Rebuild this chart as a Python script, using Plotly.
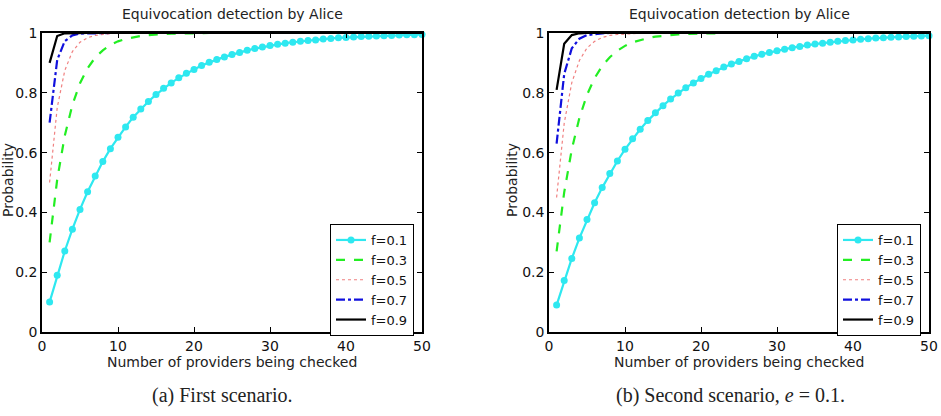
import plotly.graph_objects as go

W, H = 941, 416

n_providers = list(range(1, 51))
labels = ["f=0.1", "f=0.3", "f=0.5", "f=0.7", "f=0.9"]

# (a) First scenario
a_f01 = [0.100, 0.190, 0.271, 0.344, 0.410, 0.469, 0.522, 0.570, 0.613, 0.651,
         0.686, 0.718, 0.746, 0.771, 0.794, 0.815, 0.833, 0.850, 0.865, 0.878,
         0.891, 0.902, 0.911, 0.920, 0.928, 0.935, 0.942, 0.948, 0.953, 0.958,
         0.962, 0.966, 0.969, 0.972, 0.975, 0.977, 0.980, 0.982, 0.984, 0.985,
         0.987, 0.988, 0.989, 0.990, 0.991, 0.992, 0.993, 0.994, 0.994, 0.995]
a_f03 = [0.300, 0.510, 0.657, 0.760, 0.832, 0.882, 0.918, 0.942, 0.960, 0.972,
         0.980, 0.986, 0.990, 0.993, 0.995, 0.997, 0.998, 0.998, 0.999, 0.999,
         1.000, 1.000, 1.000, 1.000, 1.000, 1.000, 1.000, 1.000, 1.000, 1.000,
         1.000, 1.000, 1.000, 1.000, 1.000, 1.000, 1.000, 1.000, 1.000, 1.000,
         1.000, 1.000, 1.000, 1.000, 1.000, 1.000, 1.000, 1.000, 1.000, 1.000]
a_f05 = [0.500, 0.750, 0.875, 0.938, 0.969, 0.984, 0.992, 0.996, 0.998, 0.999,
         1.000, 1.000, 1.000, 1.000, 1.000, 1.000, 1.000, 1.000, 1.000, 1.000,
         1.000, 1.000, 1.000, 1.000, 1.000, 1.000, 1.000, 1.000, 1.000, 1.000,
         1.000, 1.000, 1.000, 1.000, 1.000, 1.000, 1.000, 1.000, 1.000, 1.000,
         1.000, 1.000, 1.000, 1.000, 1.000, 1.000, 1.000, 1.000, 1.000, 1.000]
a_f07 = [0.700, 0.910, 0.973, 0.992, 0.998, 0.999, 1.000, 1.000, 1.000, 1.000,
         1.000, 1.000, 1.000, 1.000, 1.000, 1.000, 1.000, 1.000, 1.000, 1.000,
         1.000, 1.000, 1.000, 1.000, 1.000, 1.000, 1.000, 1.000, 1.000, 1.000,
         1.000, 1.000, 1.000, 1.000, 1.000, 1.000, 1.000, 1.000, 1.000, 1.000,
         1.000, 1.000, 1.000, 1.000, 1.000, 1.000, 1.000, 1.000, 1.000, 1.000]
a_f09 = [0.900, 0.990, 0.999, 1.000, 1.000, 1.000, 1.000, 1.000, 1.000, 1.000,
         1.000, 1.000, 1.000, 1.000, 1.000, 1.000, 1.000, 1.000, 1.000, 1.000,
         1.000, 1.000, 1.000, 1.000, 1.000, 1.000, 1.000, 1.000, 1.000, 1.000,
         1.000, 1.000, 1.000, 1.000, 1.000, 1.000, 1.000, 1.000, 1.000, 1.000,
         1.000, 1.000, 1.000, 1.000, 1.000, 1.000, 1.000, 1.000, 1.000, 1.000]

# (b) Second scenario, e = 0.1
b_f01 = [0.090, 0.172, 0.246, 0.314, 0.376, 0.432, 0.483, 0.530, 0.572, 0.611,
         0.646, 0.678, 0.707, 0.733, 0.757, 0.779, 0.799, 0.817, 0.833, 0.848,
         0.862, 0.874, 0.886, 0.896, 0.905, 0.914, 0.922, 0.929, 0.935, 0.941,
         0.946, 0.951, 0.955, 0.960, 0.963, 0.966, 0.969, 0.972, 0.975, 0.977,
         0.979, 0.981, 0.983, 0.984, 0.986, 0.987, 0.988, 0.989, 0.990, 0.991]
b_f03 = [0.270, 0.467, 0.611, 0.716, 0.793, 0.849, 0.890, 0.919, 0.941, 0.957,
         0.969, 0.977, 0.983, 0.988, 0.991, 0.993, 0.995, 0.997, 0.997, 0.998,
         0.999, 0.999, 1.000, 1.000, 1.000, 1.000, 1.000, 1.000, 1.000, 1.000,
         1.000, 1.000, 1.000, 1.000, 1.000, 1.000, 1.000, 1.000, 1.000, 1.000,
         1.000, 1.000, 1.000, 1.000, 1.000, 1.000, 1.000, 1.000, 1.000, 1.000]
b_f05 = [0.450, 0.698, 0.834, 0.908, 0.950, 0.972, 0.985, 0.992, 0.995, 0.997,
         0.999, 0.999, 1.000, 1.000, 1.000, 1.000, 1.000, 1.000, 1.000, 1.000,
         1.000, 1.000, 1.000, 1.000, 1.000, 1.000, 1.000, 1.000, 1.000, 1.000,
         1.000, 1.000, 1.000, 1.000, 1.000, 1.000, 1.000, 1.000, 1.000, 1.000,
         1.000, 1.000, 1.000, 1.000, 1.000, 1.000, 1.000, 1.000, 1.000, 1.000]
b_f07 = [0.630, 0.863, 0.949, 0.981, 0.993, 0.997, 0.999, 1.000, 1.000, 1.000,
         1.000, 1.000, 1.000, 1.000, 1.000, 1.000, 1.000, 1.000, 1.000, 1.000,
         1.000, 1.000, 1.000, 1.000, 1.000, 1.000, 1.000, 1.000, 1.000, 1.000,
         1.000, 1.000, 1.000, 1.000, 1.000, 1.000, 1.000, 1.000, 1.000, 1.000,
         1.000, 1.000, 1.000, 1.000, 1.000, 1.000, 1.000, 1.000, 1.000, 1.000]
b_f09 = [0.810, 0.964, 0.993, 0.999, 1.000, 1.000, 1.000, 1.000, 1.000, 1.000,
         1.000, 1.000, 1.000, 1.000, 1.000, 1.000, 1.000, 1.000, 1.000, 1.000,
         1.000, 1.000, 1.000, 1.000, 1.000, 1.000, 1.000, 1.000, 1.000, 1.000,
         1.000, 1.000, 1.000, 1.000, 1.000, 1.000, 1.000, 1.000, 1.000, 1.000,
         1.000, 1.000, 1.000, 1.000, 1.000, 1.000, 1.000, 1.000, 1.000, 1.000]

x_ticks = [0, 10, 20, 30, 40, 50]
y_ticks = [0, 0.2, 0.4, 0.6, 0.8, 1]
y_tick_text = ["0", "0.2", "0.4", "0.6", "0.8", "1"]

plot_title = "Equivocation detection by Alice"
x_title = "Number of providers being checked"
y_title = "Probability"
captions = ["(a) First scenario.", "(b) Second scenario, <i>e</i> = 0.1."]

SANS = "DejaVu Sans, Liberation Sans, Arial"
SERIF = "Liberation Serif, Times New Roman, serif"

styles = [
    dict(color="#2ee8f0", width=2.2, dash="solid"),
    dict(color="#22ee22", width=2.2, dash="dash"),
    dict(color="#f08080", width=1.2, dash="dot"),
    dict(color="#1010dd", width=2.2, dash="dashdot"),
    dict(color="#000000", width=2.2, dash="solid"),
]

fig = go.Figure()

panels = [
    ("x", "y", "legend", [a_f01, a_f03, a_f05, a_f07, a_f09]),
    ("x2", "y2", "legend2", [b_f01, b_f03, b_f05, b_f07, b_f09]),
]

for xa, ya, lg, series in panels:
    for i, (lab, vals) in enumerate(zip(labels, series)):
        mode = "lines+markers" if i == 0 else "lines"
        fig.add_trace(go.Scatter(
            x=n_providers, y=vals, name=lab, mode=mode,
            line=styles[i],
            marker=dict(size=7, color=styles[i]["color"]) if i == 0 else None,
            xaxis=xa, yaxis=ya, legend=lg, cliponaxis=False if i == 0 else True,
        ))

def px_x(p):
    return p / W

def px_y(p):
    return 1 - p / H

left_dom = [px_x(42), px_x(422)]
right_dom = [px_x(549), px_x(929)]
y_dom = [px_y(332), px_y(33)]

axis_common = dict(
    showline=True, linecolor="black", linewidth=1.5, mirror="ticks",
    ticks="inside", ticklen=5, tickcolor="black", tickwidth=1,
    showgrid=False, zeroline=False, automargin=False,
    tickfont=dict(family=SANS, size=14, color="#111111"),
)

legend_common = dict(
    yanchor="top", xanchor="left", bgcolor="white", bordercolor="black",
    borderwidth=1, font=dict(family=SANS, size=13), tracegroupgap=0, itemwidth=30,
)

fig.update_layout(
    width=W, height=H,
    margin=dict(l=0, r=0, t=0, b=0, autoexpand=False),
    paper_bgcolor="white", plot_bgcolor="white",
    font=dict(family=SANS, size=14, color="#111111"),
    xaxis=dict(domain=left_dom, range=[0, 50], tickvals=x_ticks, anchor="y", **axis_common),
    yaxis=dict(domain=y_dom, range=[0, 1], tickvals=y_ticks, ticktext=y_tick_text, anchor="x", **axis_common),
    xaxis2=dict(domain=right_dom, range=[0, 50], tickvals=x_ticks, anchor="y2", **axis_common),
    yaxis2=dict(domain=y_dom, range=[0, 1], tickvals=y_ticks, ticktext=y_tick_text, anchor="x2", **axis_common),
    legend=dict(x=px_x(330), y=px_y(224), **legend_common),
    legend2=dict(x=px_x(837), y=px_y(224), **legend_common),
    showlegend=True,
)

anns = []
for cx, ylab_x, cap_x, cap in [(232, 8, 222, captions[0]), (739, 512, 730, captions[1])]:
    anns.append(dict(text=plot_title, x=px_x(cx), y=px_y(14), xref="paper", yref="paper",
                     showarrow=False, xanchor="center", yanchor="middle",
                     font=dict(family=SANS, size=14, color="#222222")))
    anns.append(dict(text=x_title, x=px_x(cx), y=px_y(362), xref="paper", yref="paper",
                     showarrow=False, xanchor="center", yanchor="middle",
                     font=dict(family=SANS, size=14, color="#222222")))
    anns.append(dict(text=y_title, x=px_x(ylab_x), y=px_y(180), xref="paper", yref="paper",
                     showarrow=False, xanchor="center", yanchor="middle", textangle=-90,
                     font=dict(family=SANS, size=14, color="#222222")))
    anns.append(dict(text=cap, x=px_x(cap_x), y=px_y(395), xref="paper", yref="paper",
                     showarrow=False, xanchor="center", yanchor="middle",
                     font=dict(family=SERIF, size=20, color="#222222")))
fig.update_layout(annotations=anns)

fig.write_html("out.html")
